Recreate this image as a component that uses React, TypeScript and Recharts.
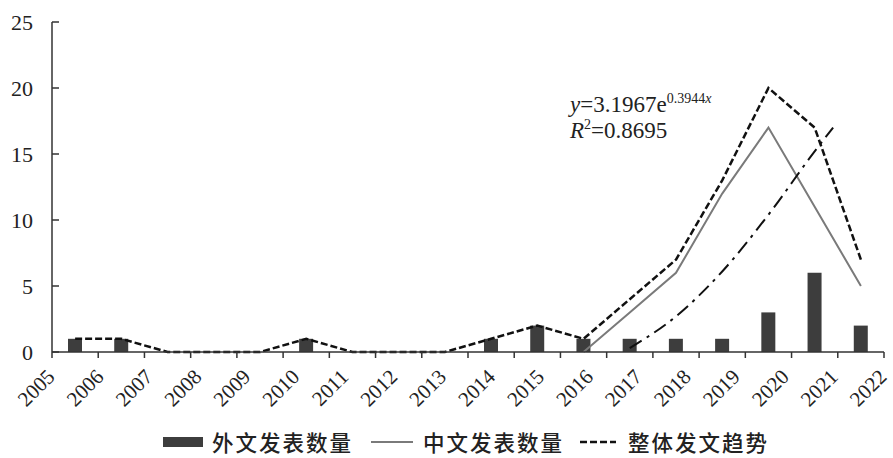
import React from 'react';
import { ComposedChart, Bar, Line, XAxis, YAxis } from 'recharts';

const YEARS = ['2005', '2006', '2007', '2008', '2009', '2010', '2011', '2012', '2013', '2014', '2015', '2016', '2017', '2018', '2019', '2020', '2021', '2022'];
const FOREIGN = [1, 1, 0, 0, 0, 1, 0, 0, 0, 1, 2, 1, 1, 1, 1, 3, 6, 2];
const CHINESE = [null, null, null, null, null, null, null, null, null, null, null, 0, 3, 6, 12, 17, 11, 5];
const TOTAL = [1, 1, 0, 0, 0, 1, 0, 0, 0, 1, 2, 1, 4, 7, 13, 20, 17, 7];
// exponential trend (position in category units)
const TREND_X = [12, 13, 14, 15, 16, 16.4];
const TREND_Y = [0.3, 2.7, 6.1, 10.4, 15.2, 17];
const Y_TICKS = [0, 5, 10, 15, 20, 25];

const data = YEARS.map((year, i) => ({
  year,
  foreign: FOREIGN[i],
  chinese: CHINESE[i],
  total: TOTAL[i],
}));
const trendData = TREND_X.map((t, i) => ({ t, v: TREND_Y[i] }));

const SERIF = '"Liberation Serif", "Times New Roman", serif';
const CJK = '"Noto Sans CJK SC", sans-serif';
const AXIS = '#333';
const BW = 832 / YEARS.length;

function XTick(props: any) {
  const { x, y, payload, index } = props;
  const left = x - BW / 2;
  const lx = left + index * (BW / (YEARS.length - 1)) + 4;
  const ly = y + 26;
  return (
    <g>
      <line x1={left} y1={y} x2={left} y2={y + 6} stroke={AXIS} strokeWidth={1.5} />
      {index === YEARS.length - 1 && (
        <line x1={x + BW / 2} y1={y} x2={x + BW / 2} y2={y + 6} stroke={AXIS} strokeWidth={1.5} />
      )}
      <text
        x={lx}
        y={ly}
        textAnchor="end"
        transform={`rotate(-45 ${lx} ${ly})`}
        fontFamily={SERIF}
        fontSize={21}
        fill="#222"
      >
        {payload.value}
      </text>
    </g>
  );
}

function YTick(props: any) {
  const { x, y, payload } = props;
  return (
    <g>
      <line x1={x} y1={y} x2={x + 7} y2={y} stroke={AXIS} strokeWidth={1.5} />
      <text x={x - 19} y={y + 8} textAnchor="end" fontFamily={SERIF} fontSize={22} fill="#222">
        {payload.value}
      </text>
    </g>
  );
}

const legendText: React.CSSProperties = {
  fontFamily: CJK,
  fontSize: 21.5,
  fontWeight: 500,
  letterSpacing: 2,
  color: '#222',
  whiteSpace: 'nowrap',
};

export default function App() {
  return (
    <div style={{ position: 'absolute', left: 0, top: 0, width: 893, height: 458, background: '#fff' }}>
      <ComposedChart width={893} height={458} data={data} margin={{ top: 22, right: 9, left: 0, bottom: 46 }}>
        <XAxis
          dataKey="year"
          interval={0}
          height={60}
          tickLine={false}
          tickSize={0}
          tickMargin={0}
          axisLine={{ stroke: AXIS, strokeWidth: 1.5 }}
          tick={<XTick />}
        />
        <XAxis xAxisId="trend" type="number" dataKey="t" domain={[-0.5, 17.5]} hide allowDataOverflow />
        <YAxis
          type="number"
          domain={[0, 25]}
          ticks={Y_TICKS}
          width={52}
          tickLine={false}
          tickSize={0}
          tickMargin={0}
          axisLine={{ stroke: AXIS, strokeWidth: 1.5 }}
          tick={<YTick />}
        />
        <Bar dataKey="foreign" barSize={14} fill="#3d3d3d" isAnimationActive={false} />
        <Line
          dataKey="chinese"
          stroke="#7a7a7a"
          strokeWidth={2}
          dot={false}
          type="linear"
          isAnimationActive={false}
        />
        <Line
          dataKey="total"
          stroke="#111"
          strokeWidth={2.5}
          strokeDasharray="7 3"
          dot={false}
          type="linear"
          isAnimationActive={false}
        />
        <Line
          xAxisId="trend"
          data={trendData}
          dataKey="v"
          stroke="#111"
          strokeWidth={2}
          strokeDasharray="14 6 3 6"
          dot={false}
          type="monotone"
          isAnimationActive={false}
        />
      </ComposedChart>

      <svg width={893} height={458} style={{ position: 'absolute', left: 0, top: 0, pointerEvents: 'none' }}>
        <text x={570} y={112} fontFamily={SERIF} fontSize={23} fill="#222">
          <tspan fontStyle="italic">y</tspan>
          <tspan>=3.1967e</tspan>
          <tspan fontSize={14} dy={-9}>0.3944</tspan>
          <tspan fontSize={14} fontStyle="italic">x</tspan>
        </text>
        <text x={570} y={138} fontFamily={SERIF} fontSize={23} fill="#222">
          <tspan fontStyle="italic">R</tspan>
          <tspan fontSize={14} dy={-9}>2</tspan>
          <tspan dy={9}>=0.8695</tspan>
        </text>
      </svg>

      <div style={{ position: 'absolute', left: 163, top: 426, display: 'flex', alignItems: 'center' }}>
        <div style={{ width: 40, height: 10, background: '#3d3d3d', marginRight: 9 }} />
        <span style={legendText}>外文发表数量</span>
        <div style={{ width: 42, height: 0, borderTop: '2px solid #7a7a7a', marginLeft: 18, marginRight: 10 }} />
        <span style={legendText}>中文发表数量</span>
        <svg width={36} height={4} style={{ marginLeft: 16, marginRight: 12 }}>
          <line x1={0} y1={2} x2={36} y2={2} stroke="#111" strokeWidth={2.5} strokeDasharray="7 3" />
        </svg>
        <span style={legendText}>整体发文趋势</span>
      </div>
    </div>
  );
}
